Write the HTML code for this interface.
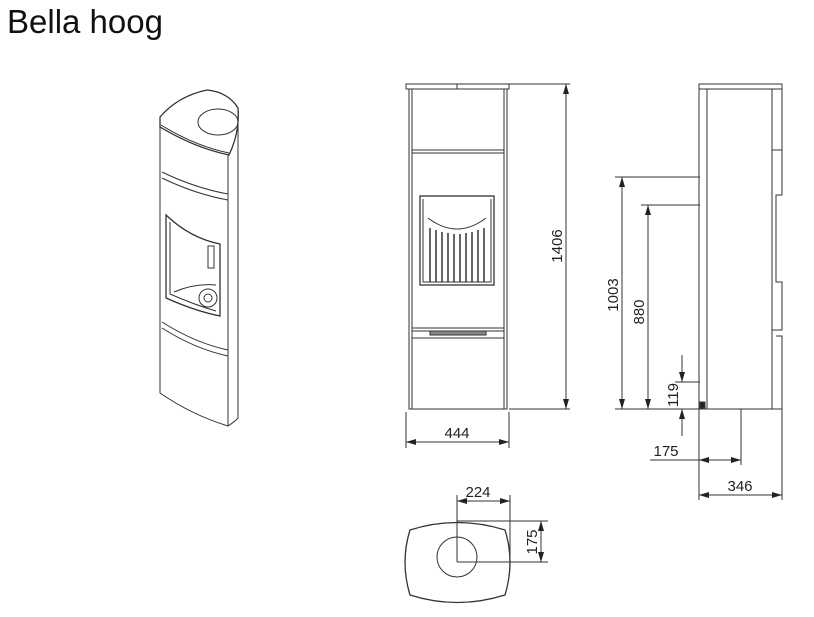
<!DOCTYPE html>
<html><head><meta charset="utf-8"><style>
html,body{margin:0;padding:0;background:#fff;}
body{width:814px;height:617px;position:relative;overflow:hidden;font-family:"Liberation Sans",sans-serif;}
.t{position:absolute;left:7px;top:3px;font-size:33px;color:#111;}
</style></head><body>
<div class="t">Bella hoog</div>
<svg width="814" height="617" style="position:absolute;left:0;top:0" fill="none" stroke="#333" stroke-width="1">
<defs><marker id="a" viewBox="0 0 10 6" refX="10" refY="3" markerWidth="10" markerHeight="6" orient="auto-start-reverse"><path d="M0,0 L10,3 L0,6 Z" fill="#222" stroke="none"/></marker></defs>
<!-- isometric -->
<path d="M160,117 Q178,96 207,90 Q228,92 238,108 Q240,132 229,155 Q195,148 160,127 Z" stroke-width="1.3"/>
<ellipse cx="218" cy="122" rx="20" ry="13"/>
<path d="M160,127 L160,393 Q192,415 228,426 L228,155"/>
<path d="M238,110 L238,418 Q233,423 228,426"/>
<path d="M161,125 Q195,146 229,153"/>
<path d="M162,172 Q195,188 228,194 M162,178 Q195,194 228,200"/>
<path d="M166,215 L166,298 Q195,311 220,316 L220,244 Q190,238 166,215 Z" stroke-width="1.3"/>
<path d="M170,222 L170,294 Q195,305 216,311"/>
<path d="M174,292 Q195,283 216,285"/>
<rect x="208" y="246" width="6" height="22"/>
<circle cx="208" cy="298" r="9"/><circle cx="208" cy="298" r="4"/>
<path d="M162,322 Q195,343 228,350 M162,328 Q195,349 228,356"/>
<!-- front view -->
<rect x="406" y="84" width="103" height="5"/>
<line x1="457" y1="84" x2="457" y2="89"/>
<path d="M409,89 L409,409 L507,409 L507,89"/>
<path d="M412,89 L412,409 M504,89 L504,409"/>
<rect x="412" y="150" width="92" height="3"/>
<rect x="420" y="196" width="74" height="89" stroke-width="1.3"/>
<path d="M423,199 L423,282 L491,282 L491,199"/>
<path d="M428,218 Q457,240 486,218"/>
<g stroke-width="1.5"><path d="M430,228V282M436,230V282M442,232V282M448,233V282M454,234V282M460,234V282M466,233V282M472,232V282M478,230V282M484,228V282"/></g>
<rect x="412" y="328" width="92" height="3"/>
<rect x="430" y="331" width="56" height="4" fill="#888"/>
<line x1="412" y1="338" x2="504" y2="338"/>
<!-- 1406 -->
<line x1="509" y1="84" x2="570" y2="84"/><line x1="509" y1="409" x2="570" y2="409"/>
<line x1="566" y1="84" x2="566" y2="409" marker-start="url(#a)" marker-end="url(#a)"/>
<!-- 444 -->
<line x1="406" y1="412" x2="406" y2="448"/><line x1="509" y1="412" x2="509" y2="448"/>
<line x1="406" y1="442" x2="509" y2="442" marker-start="url(#a)" marker-end="url(#a)"/>
<!-- side view -->
<rect x="699" y="84" width="83" height="5"/>
<path d="M699,89 L699,409 M707,89 L707,409 M772,89 L772,409 M782,89 L782,150"/>
<path d="M772,150 L782,150 L782,195 L776,195 L776,282 L782,282 L782,330 L772,330 M776,336 L782,336 L782,409"/>
<line x1="615" y1="409" x2="782" y2="409"/>
<rect x="700" y="402" width="5" height="6" fill="#222"/>
<line x1="615" y1="177" x2="700" y2="177"/>
<line x1="622" y1="177" x2="622" y2="409" marker-start="url(#a)" marker-end="url(#a)"/>
<line x1="641" y1="205" x2="700" y2="205"/>
<line x1="648" y1="205" x2="648" y2="409" marker-start="url(#a)" marker-end="url(#a)"/>
<line x1="675" y1="382" x2="700" y2="382"/>
<line x1="682" y1="355" x2="682" y2="382" marker-end="url(#a)"/>
<line x1="682" y1="436" x2="682" y2="409" marker-end="url(#a)"/>
<line x1="741" y1="409" x2="741" y2="465"/>
<line x1="699" y1="409" x2="699" y2="500"/><line x1="782" y1="409" x2="782" y2="500"/>
<line x1="650" y1="460" x2="699" y2="460"/>
<line x1="699" y1="460" x2="741" y2="460" marker-start="url(#a)" marker-end="url(#a)"/>
<line x1="699" y1="495" x2="782" y2="495" marker-start="url(#a)" marker-end="url(#a)"/>
<!-- plan -->
<path d="M410,530 Q457,515 505,530 Q515,562 505,595 Q457,610 410,595 Q400,562 410,530 Z" stroke-width="1.3"/>
<circle cx="457" cy="557" r="20"/>
<line x1="457" y1="495" x2="457" y2="562"/><line x1="510" y1="495" x2="510" y2="562"/>
<line x1="457" y1="501" x2="510" y2="501" marker-start="url(#a)" marker-end="url(#a)"/>
<line x1="457" y1="521" x2="548" y2="521"/><line x1="457" y1="562" x2="548" y2="562"/>
<line x1="541" y1="521" x2="541" y2="562" marker-start="url(#a)" marker-end="url(#a)"/>
<g fill="#222" stroke="none" font-family="Liberation Sans Narrow, Liberation Sans, sans-serif" font-size="15">
<text x="457" y="438" text-anchor="middle">444</text>
<text transform="translate(562,246) rotate(-90)" text-anchor="middle">1406</text>
<text transform="translate(618,295) rotate(-90)" text-anchor="middle">1003</text>
<text transform="translate(644,312) rotate(-90)" text-anchor="middle">880</text>
<text transform="translate(678,395) rotate(-90)" text-anchor="middle">119</text>
<text x="666" y="456" text-anchor="middle">175</text>
<text x="740" y="491" text-anchor="middle">346</text>
<text x="478" y="497" text-anchor="middle">224</text>
<text transform="translate(537,542) rotate(-90)" text-anchor="middle">175</text>
</g>
</svg>
</body></html>
